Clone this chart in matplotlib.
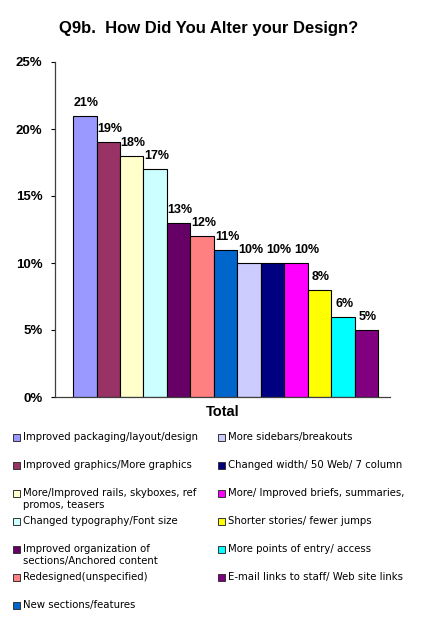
import matplotlib.pyplot as plt
from matplotlib.patches import Rectangle

plt.rcParams["font.family"] = ["Liberation Sans", "DejaVu Sans"]

W, H = 425, 629

categories = [
    "Improved packaging/layout/design",
    "Improved graphics/More graphics",
    "More/Improved rails, skyboxes, ref\npromos, teasers",
    "Changed typography/Font size",
    "Improved organization of\nsections/Anchored content",
    "Redesigned(unspecified)",
    "New sections/features",
    "More sidebars/breakouts",
    "Changed width/ 50 Web/ 7 column",
    "More/ Improved briefs, summaries,",
    "Shorter stories/ fewer jumps",
    "More points of entry/ access",
    "E-mail links to staff/ Web site links",
]
values = [21, 19, 18, 17, 13, 12, 11, 10, 10, 10, 8, 6, 5]
colors = ["#9999ff", "#993366", "#ffffcc", "#ccffff", "#660066", "#ff8080",
          "#0066cc", "#ccccff", "#000080", "#ff00ff", "#ffff00", "#00ffff",
          "#800080"]
yticks = [0, 5, 10, 15, 20, 25]


def px(x, y):
    # pixel coords (top-left origin) -> figure fraction
    return x / W, 1 - y / H


fig = plt.figure(figsize=(W / 100, H / 100), dpi=100)
l, t = px(55, 62)
r, b = px(390, 397)
ax = fig.add_axes([l, b, r - l, t - b])

xs = list(range(len(values)))
bars = ax.bar(xs, values, width=1.0, color=colors, edgecolor="black", linewidth=0.8)
labels = []
for x, v in zip(xs, values):
    labels.append(ax.annotate(f"{v}%", (x, v), xytext=(1, 5), textcoords="offset points",
                              ha="center", va="bottom", fontsize=9, fontweight="bold"))

ax.set_ylim(0, 25)
ax.set_xlim(-1.27, 13.01)
ax.set_yticks(yticks)
ax.set_yticklabels([f"{v}%" for v in yticks], fontsize=9.5, fontweight="bold")
ax.set_xticks([])
ax.tick_params(axis="y", length=3, width=0.8, pad=6)
for s in ("top", "right"):
    ax.spines[s].set_visible(False)
for s in ("left", "bottom"):
    ax.spines[s].set_color("#404040")
    ax.spines[s].set_linewidth(0.9)
ax.set_xlabel("Total", fontsize=10.5, fontweight="bold", labelpad=6)

# push value labels right only when they sit on the same row as the previous one
fig.canvas.draw()
renderer = fig.canvas.get_renderer()
prev = None
for ann in labels:
    bb = ann.get_window_extent(renderer)
    if (prev is not None and bb.y1 > prev.y0 + 5 and bb.y0 < prev.y1 - 5
            and bb.x0 < prev.x1 + 3):
        dx = (prev.x1 + 3 - bb.x0) * 72 / fig.dpi
        ox, oy = ann.xyann
        ann.xyann = (ox + dx, oy)
        bb = ann.get_window_extent(renderer)
    prev = bb

fig.text(*px(209, 28), "Q9b.  How Did You Alter your Design?", ha="center",
         va="center", fontsize=12, fontweight="bold")

# legend, two columns on a fixed grid
nrows = 7
for i, (lab, col) in enumerate(zip(categories, colors)):
    c, rr = divmod(i, nrows)
    mx = 13 if c == 0 else 218
    my = 438 + 28 * rr
    fx, fy = px(mx, my + 3)
    fw, fh = 7 / W, 7 / H
    fig.add_artist(Rectangle((fx, fy), fw, fh, transform=fig.transFigure,
                             facecolor=col, edgecolor="#333333", linewidth=0.7))
    fig.text(*px(mx + 10, my - 6), lab, ha="left", va="top", fontsize=7.3,
             linespacing=1.25, family="DejaVu Sans")

fig.savefig("out.png", dpi=100)
